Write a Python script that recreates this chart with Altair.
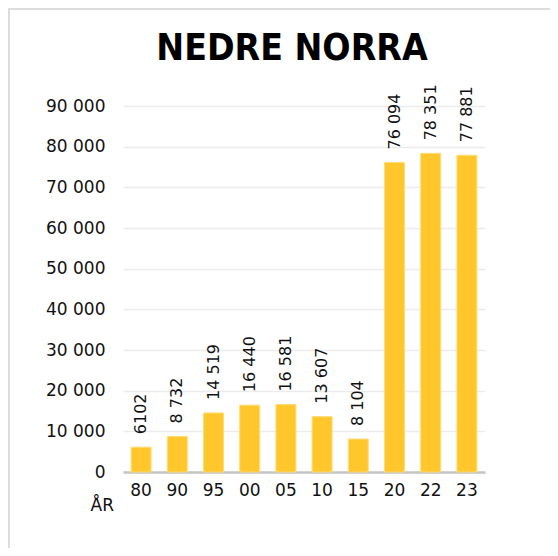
import altair as alt
import pandas as pd

years = ["80", "90", "95", "00", "05", "10", "15", "20", "22", "23"]
values = [6102, 8732, 14519, 16440, 16581, 13607, 8104, 76094, 78351, 77881]
value_labels = ["6102", "8 732", "14 519", "16 440", "16 581", "13 607", "8 104", "76 094", "78 351", "77 881"]
title_text = "NEDRE NORRA"
axis_title = "ÅR"

df = pd.DataFrame({"year": years, "value": values, "label": value_labels})

FONT = "DejaVu Sans"
TITLE_FONT = "'Liberation Sans Narrow', 'DejaVu Sans Condensed', 'Roboto Condensed', 'Liberation Sans', sans-serif"
BAR = "#FFC72C"

x = alt.X(
    "year:N",
    sort=years,
    scale=alt.Scale(paddingInner=0.45, paddingOuter=0.225),
    axis=alt.Axis(
        title=axis_title,
        titleX=-33,
        titleY=38,
        titleAlign="left",
        titleBaseline="alphabetic",
        titleAnchor="start",
        titleFont=FONT,
        titleFontSize=17,
        titleFontWeight="normal",
        titleColor="#111111",
        labelAngle=0,
        labelFont=FONT,
        labelFontSize=17,
        labelColor="#111111",
        labelPadding=10,
        ticks=False,
        domainColor="#c4c4c4",
        domainWidth=2.5,
        grid=False,
    ),
)
y = alt.Y(
    "value:Q",
    scale=alt.Scale(domain=[0, 90000]),
    axis=alt.Axis(
        title=None,
        values=[0, 10000, 20000, 30000, 40000, 50000, 60000, 70000, 80000, 90000],
        labelExpr="replace(format(datum.value, ','), ',', ' ')",
        labelFont=FONT,
        labelFontSize=17,
        labelColor="#111111",
        labelPadding=18,
        ticks=False,
        domain=False,
        grid=True,
        gridColor="#ececec",
        gridWidth=1.5,
    ),
)

border = alt.Chart(pd.DataFrame({"a": [0]})).mark_rect(
    fillOpacity=0, stroke="#dcdcdc", strokeWidth=2
).encode(
    x=alt.value(-114), x2=alt.value(1000), y=alt.value(-97), y2=alt.value(1000)
)

title = alt.Chart(pd.DataFrame({"t": [title_text]})).mark_text(
    font=TITLE_FONT, fontSize=37, fontWeight="bold", color="#000000",
    align="center", baseline="alphabetic"
).encode(text="t:N", x=alt.value(169), y=alt.value(-46))

bars = alt.Chart(df).mark_bar(color=BAR, stroke="#FFDB72", strokeWidth=1).encode(x=x, y=y)

labels = alt.Chart(df).mark_text(
    angle=270, align="left", baseline="middle", dx=13,
    font=FONT, fontSize=16, color="#111111"
).encode(x=alt.X("year:N", sort=years), y="value:Q", text="label:N")

chart = alt.layer(border, bars, labels, title).properties(
    width=362,
    height=366,
    padding={"left": 115, "top": 98, "right": 65, "bottom": 76},
    autosize=alt.AutoSizeParams(type="none"),
).configure_view(stroke=None)

chart.save("out.html", embed_options={"renderer": "svg", "actions": False})
